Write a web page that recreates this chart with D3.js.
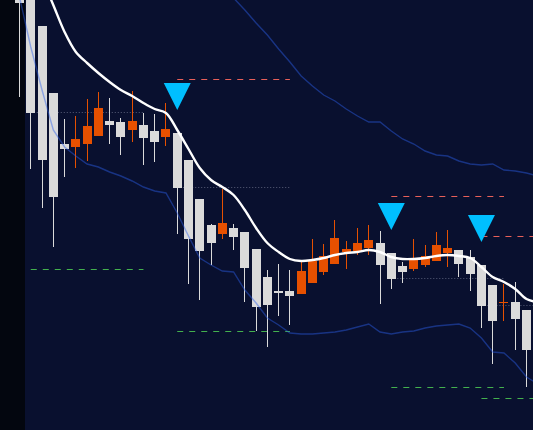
<!DOCTYPE html>
<html><head><meta charset="utf-8">
<script src="https://cdn.jsdelivr.net/npm/d3@7"></script>
<style>html,body{margin:0;padding:0;background:#09102f;overflow:hidden}</style>
</head><body>
<svg id="c" width="533" height="430"></svg>
<script>
// price values (arbitrary price units)
const opens  = [460,435,404,337,286,283,286,294,309,308,300,305,299,293,297,270,231,205,196,202,198,181,153,139,139,136,147,158,166,178,179,182,187,177,164,161,165,169,177,180,173,165,145,127,128,120];
const highs  = [475,440,404,337,311,314,331,338,332,312,339,317,316,327,297,270,231,206,241,206,198,181,160,166,160,169,191,186,210,189,202,205,199,177,168,191,185,198,200,180,180,165,145,146,148,120];
const lows   = [333,261,222,183,253,262,269,294,286,275,288,265,268,284,196,146,130,165,191,180,128, 99, 83,114,105,136,147,155,166,161,175,175,126,141,147,159,163,169,163,153,139,102, 66,109, 80, 43];
const closes = [427,317,270,233,281,291,304,322,305,293,309,292,288,301,242,191,179,187,207,193,162,123,125,137,134,159,169,174,192,181,187,190,165,151,158,170,174,185,182,166,156,124,109,128,111, 80];

const maLine   = [510,480,452,425,398,378,367,357,348,340,334,327,321,317,300,281,262,250,243,235,220,202,187,178,171,169,170,172,175,177,178,180,178,173,171,171,172,174,175,174,172,163,153,148,141,131,128];
const upperBand= [730,720,705,685,665,645,625,608,590,575,560,545,530,518,505,490,475,460,446,432,420,407,395,381,368,354,344,335,329,321,314,308,308,299,291,286,279,275,274,269,266,265,266,260,259,257,254];
const lowerBand= [433,383,340,300,283,274,266,263,258,254,249,243,239,237,217,194,172,165,159,158,140,127,112,105, 97, 96, 96, 97, 98,100,103,106, 98, 96, 98, 99,102,104,105,106,102, 92, 78, 77, 67, 53, 46];

const signalIdx    = [1,14,33,41];
const signalEntry  = [317,242,151,124];
const signalStop   = [436,351,234,194];
const signalTarget = [161,99,43,32];
const signalSpan = 10;

const W=533,H=430;
const svg=d3.select('#c');
const x=d3.scaleLinear().domain([0,45]).range([19.5,526.5]);
const y=d3.scaleLinear().domain([0,430]).range([430,0]);

svg.append('rect').attr('width',W).attr('height',H).attr('fill','#09102f');
svg.append('rect').attr('width',25).attr('height',H).attr('fill','#03060f');

// signal level lines (under candles)
const lv=svg.append('g');
signalIdx.forEach((si,k)=>{
  const x0=x(si), x1=x(si+signalSpan);
  lv.append('line').attr('x1',x0).attr('x2',x1).attr('y1',Math.round(y(signalStop[k]))+0.5).attr('y2',Math.round(y(signalStop[k]))+0.5)
    .attr('stroke','#e8605a').attr('stroke-width',1.2).attr('stroke-dasharray','6,6');
  lv.append('line').attr('x1',x0).attr('x2',x1).attr('y1',Math.round(y(signalTarget[k]))+0.5).attr('y2',Math.round(y(signalTarget[k]))+0.5)
    .attr('stroke','#43b04e').attr('stroke-width',1.2).attr('stroke-dasharray','6,6');
  lv.append('line').attr('x1',x0).attr('x2',x1).attr('y1',Math.round(y(signalEntry[k]))-0.5).attr('y2',Math.round(y(signalEntry[k]))-0.5)
    .attr('stroke','#585e78').attr('stroke-width',1).attr('stroke-dasharray','1,2');
});

// candles
const cg=svg.append('g');
opens.forEach((o,i)=>{
  const c=closes[i], up=c>o;
  const col=up?'#e65000':'#dadada';
  const bx=Math.round(x(i)-4.5);
  cg.append('line').attr('x1',bx+4.5).attr('x2',bx+4.5)
    .attr('y1',y(highs[i])).attr('y2',y(lows[i])).attr('stroke',col).attr('stroke-width',1);
  const top=Math.round(y(Math.max(o,c))), bot=Math.round(y(Math.min(o,c)));
  cg.append('rect').attr('x',bx).attr('y',top).attr('width',9).attr('height',Math.max(1,bot-top)).attr('fill',col);
});

// bands
const bandLine=d3.line().x((d,i)=>x(i)).y(d=>y(d));
[upperBand,lowerBand].forEach(b=>{
  svg.append('path').attr('d',bandLine(b)).attr('fill','none')
    .attr('stroke','rgba(45,95,235,0.45)').attr('stroke-width',1.4);
});

// moving average
svg.append('path').attr('d',d3.line().x((d,i)=>x(i)).y(d=>y(d)).curve(d3.curveCatmullRom.alpha(0.5))(maLine))
  .attr('fill','none').attr('stroke','#ffffff').attr('stroke-width',2.4);

// signal triangles
signalIdx.forEach(si=>{
  const cx=x(si), tip=y(highs[si])-23;
  svg.append('path').attr('d',`M${cx-13.5},${tip-27}L${cx+13.5},${tip-27}L${cx},${tip}Z`).attr('fill','#00bfff');
});
</script>
</body></html>
